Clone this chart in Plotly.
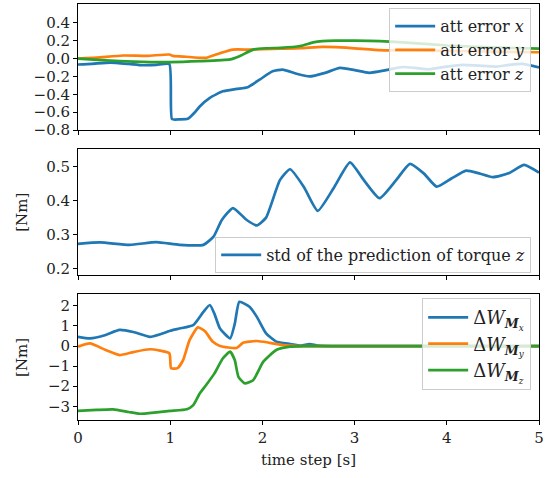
import plotly.graph_objects as go

# ---------------- data ----------------
att_x_t = [0, 0.15, 0.35, 0.55, 0.7, 0.85, 0.99, 1.02, 1.1, 1.19, 1.26, 1.32, 1.43, 1.57, 1.72, 1.84, 1.97, 2.11,
           2.22, 2.37, 2.51, 2.68, 2.84, 3.0, 3.16, 3.34, 3.52, 3.66, 3.81, 4.0, 4.17, 4.35, 4.54, 4.68, 4.82, 5.0]
att_x = [-0.067, -0.06, -0.045, -0.06, -0.075, -0.07, -0.062, -0.678, -0.68, -0.675, -0.61, -0.536, -0.44, -0.367,
         -0.34, -0.32, -0.236, -0.143, -0.124, -0.17, -0.2, -0.16, -0.105, -0.13, -0.16, -0.13, -0.095, -0.105, -0.12,
         -0.09, -0.07, -0.08, -0.09, -0.07, -0.06, -0.1]

att_y_t = [0, 0.2, 0.49, 0.75, 0.99, 1.03, 1.17, 1.39, 1.54, 1.68, 1.86, 2.0, 2.2, 2.41, 2.65, 2.85, 3.27, 3.6, 4.0,
           4.5, 5.0]
att_y = [0.0, 0.01, 0.034, 0.03, 0.045, 0.03, 0.02, 0.008, 0.06, 0.1, 0.1, 0.105, 0.11, 0.115, 0.13, 0.125, 0.095,
         0.09, 0.085, 0.078, 0.07]

att_z_t = [0, 0.3, 0.6, 1.0, 1.32, 1.65, 1.75, 1.9, 2.04, 2.2, 2.41, 2.55, 2.65, 2.8, 3.0, 3.27, 3.6, 4.0, 4.5, 5.0]
att_z = [0.0, -0.02, -0.034, -0.04, -0.03, -0.01, 0.026, 0.1, 0.115, 0.12, 0.14, 0.18, 0.195, 0.2, 0.2, 0.195,
         0.175, 0.146, 0.125, 0.11]

std_t = [0, 0.24, 0.56, 0.85, 1.1, 1.36, 1.47, 1.56, 1.68, 1.83, 1.94, 2.04, 2.19, 2.3, 2.45, 2.6, 2.78, 2.95, 3.1,
         3.27, 3.45, 3.6, 3.75, 3.89, 4.05, 4.21, 4.35, 4.5, 4.67, 4.84, 5.0]
std_z = [0.273, 0.277, 0.27, 0.278, 0.27, 0.27, 0.294, 0.343, 0.378, 0.343, 0.327, 0.35, 0.46, 0.492, 0.44, 0.37,
         0.44, 0.512, 0.46, 0.407, 0.46, 0.508, 0.48, 0.441, 0.465, 0.488, 0.48, 0.469, 0.48, 0.505, 0.482]

dw_x_t = [0, 0.13, 0.3, 0.45, 0.6, 0.78, 0.9, 1.0, 1.1, 1.25, 1.36, 1.43, 1.48, 1.54, 1.65, 1.7, 1.75, 1.86, 1.94,
          2.04, 2.15, 2.3, 2.42, 2.51, 2.6, 2.75, 3.0, 5.0]
dw_x = [0.46, 0.38, 0.55, 0.8, 0.7, 0.46, 0.6, 0.76, 0.87, 1.04, 1.7, 2.04, 1.6, 0.87, 0.38, 1.1, 2.2, 1.95, 1.45,
        0.63, 0.22, 0.1, 0.02, 0.1, 0.02, 0.0, 0.0, 0.0]

dw_y_t = [0, 0.13, 0.3, 0.45, 0.6, 0.78, 0.99, 1.01, 1.08, 1.14, 1.21, 1.3, 1.38, 1.46, 1.54, 1.72, 1.79, 1.94, 2.08,
          2.22, 2.4, 2.6, 5.0]
dw_y = [-0.03, 0.13, -0.2, -0.45, -0.3, -0.16, -0.36, -1.11, -1.1, -0.7, 0.29, 0.93, 0.72, 0.22, 0.0, -0.1, 0.16,
        0.25, 0.16, 0.05, 0.0, 0.0, 0.0]

dw_z_t = [0, 0.2, 0.38, 0.55, 0.67, 0.85, 1.0, 1.18, 1.25, 1.32, 1.39, 1.48, 1.57, 1.65, 1.7, 1.74, 1.81, 1.9, 2.01,
          2.15, 2.3, 2.45, 5.0]
dw_z = [-3.23, -3.18, -3.15, -3.28, -3.37, -3.3, -3.23, -3.15, -2.94, -2.36, -1.94, -1.36, -0.62, -0.28, -0.7, -1.53,
        -1.86, -1.7, -0.78, -0.2, -0.03, 0.0, 0.0]

x_ticks = [0, 1, 2, 3, 4, 5]
y1_ticks = [-0.8, -0.6, -0.4, -0.2, 0.0, 0.2, 0.4]
y1_labels = ["−0.8", "−0.6", "−0.4", "−0.2", "0.0", "0.2", "0.4"]
y2_ticks = [0.2, 0.3, 0.4, 0.5]
y2_labels = ["0.2", "0.3", "0.4", "0.5"]
y3_ticks = [-3, -2, -1, 0, 1, 2]
y3_labels = ["−3", "−2", "−1", "0", "1", "2"]

BLUE, ORANGE, GREEN = "#1f77b4", "#ff7f0e", "#2ca02c"
FONT = "'DejaVu Serif', serif"

fig = go.Figure()

def line(t, v, name, color, xa, ya, legend):
    fig.add_trace(go.Scatter(x=t, y=v, name=name, mode="lines",
                             line=dict(color=color, width=2.7, shape="spline", smoothing=0.5),
                             xaxis=xa, yaxis=ya, legend=legend))

line(att_x_t, att_x, "att error <i>x</i>", BLUE, "x", "y", "legend")
line(att_y_t, att_y, "att error <i>y</i>", ORANGE, "x", "y", "legend")
line(att_z_t, att_z, "att error <i>z</i>", GREEN, "x", "y", "legend")
line(std_t, std_z, "std of the prediction of torque <i>z</i>", BLUE, "x2", "y2", "legend2")
line(dw_x_t, dw_x, "Δ<i>W</i><sub><b><i>M</i></b><sub><i>x</i></sub></sub>", BLUE, "x3", "y3", "legend3")
line(dw_y_t, dw_y, "Δ<i>W</i><sub><b><i>M</i></b><sub><i>y</i></sub></sub>", ORANGE, "x3", "y3", "legend3")
line(dw_z_t, dw_z, "Δ<i>W</i><sub><b><i>M</i></b><sub><i>z</i></sub></sub>", GREEN, "x3", "y3", "legend3")

TXT = dict(family=FONT, size=15, color="#222")
LEG = dict(family=FONT, size=16, color="#222")
LEG3 = dict(family=FONT, size=18, color="#222")
axis_common = dict(showline=True, linecolor="black", linewidth=1, mirror=True, ticks="outside",
                   ticklen=4, tickwidth=1, tickcolor="black", showgrid=False, zeroline=False,
                   tickfont=TXT, automargin=False)

def xa(anchor, labels):
    return dict(axis_common, range=[0, 5], tickvals=x_ticks, anchor=anchor, domain=[0, 1],
                showticklabels=labels)

legend_common = dict(bgcolor="rgba(255,255,255,0.8)", bordercolor="#cccccc", borderwidth=1,
                     font=LEG, xanchor="right", yanchor="top", itemwidth=40)

fig.update_layout(
    width=551, height=478,
    margin=dict(l=78, r=12, t=4, b=58),
    paper_bgcolor="white", plot_bgcolor="white",
    xaxis=xa("y", False),
    xaxis2=xa("y2", False),
    xaxis3=xa("y3", True),
    yaxis=dict(axis_common, domain=[0.697, 1.0], range=[-0.8, 0.61], tickvals=y1_ticks, ticktext=y1_labels,
               anchor="x"),
    yaxis2=dict(axis_common, domain=[0.349, 0.651], range=[0.182, 0.551], tickvals=y2_ticks,
                ticktext=y2_labels, anchor="x2"),
    yaxis3=dict(axis_common, domain=[0.0, 0.302], range=[-3.68, 2.57], tickvals=y3_ticks, ticktext=y3_labels,
                anchor="x3"),
    legend=dict(legend_common, x=0.983, y=0.99),
    legend2=dict(legend_common, x=0.983, y=0.44),
    legend3=dict(legend_common, x=0.983, y=0.293, font=LEG3),
    showlegend=True,
    annotations=[
        dict(text="[Nm]", xref="paper", yref="paper", x=-0.122, y=0.5, textangle=-90,
             showarrow=False, font=TXT, xanchor="center", yanchor="middle"),
        dict(text="[Nm]", xref="paper", yref="paper", x=-0.122, y=0.151, textangle=-90,
             showarrow=False, font=TXT, xanchor="center", yanchor="middle"),
        dict(text="time step [s]", xref="paper", yref="paper", x=0.5, y=-0.096,
             showarrow=False, font=TXT, xanchor="center", yanchor="middle"),
    ],
)

fig.write_html("out.html", config={"displayModeBar": False},
               post_script="document.body.style.margin='0px';")
